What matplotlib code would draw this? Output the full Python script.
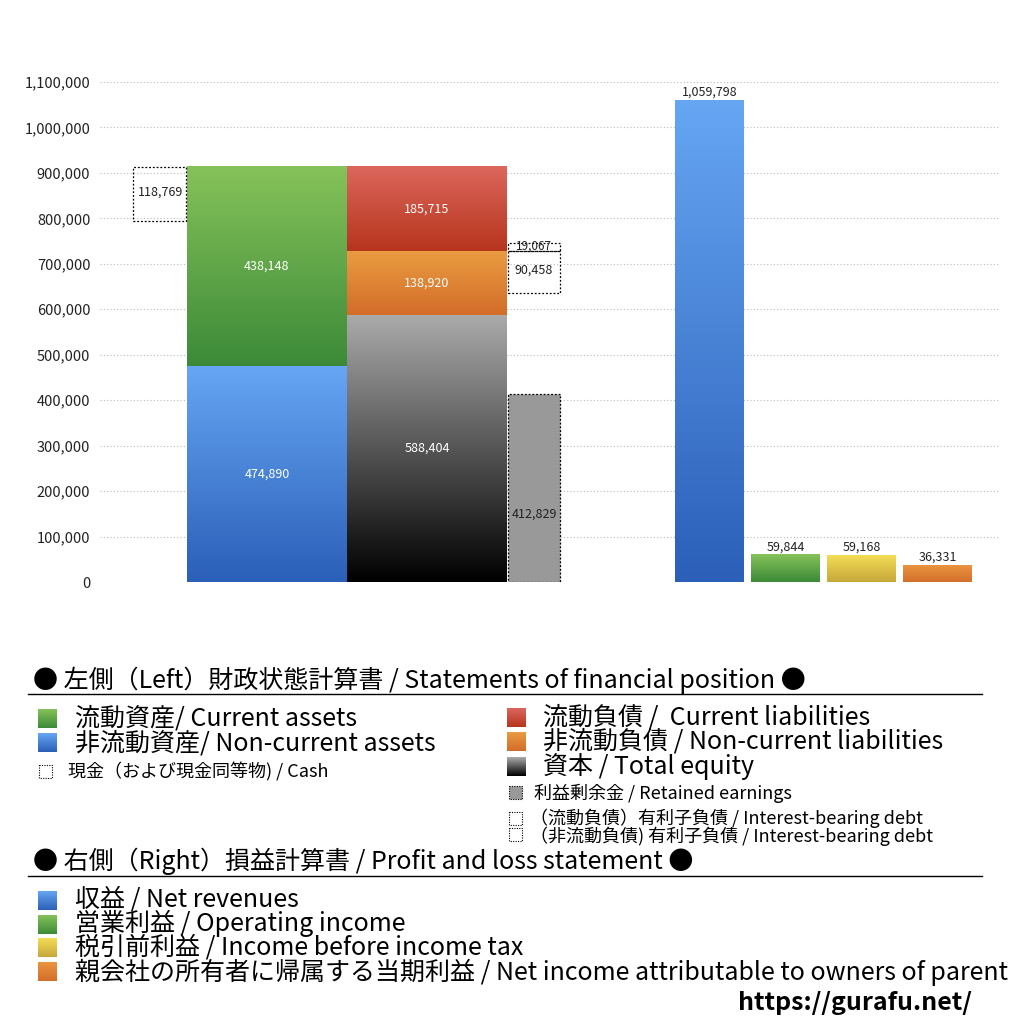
import matplotlib
matplotlib.use("Agg")
import matplotlib.pyplot as plt
import numpy as np
from matplotlib.patches import Rectangle
from matplotlib.colors import to_rgb

plt.rcParams['font.family'] = ['Noto Sans CJK JP', 'DejaVu Sans']

# ---------------- data ----------------
assets_labels = ["非流動資産/ Non-current assets", "流動資産/ Current assets"]
assets_values = [474890, 438148]
liab_labels = ["資本 / Total equity", "非流動負債 / Non-current liabilities", "流動負債 /  Current liabilities"]
liab_values = [588404, 138920, 185715]
cash_value = 118769
retained_earnings = 412829
debt_noncurrent = 90458
debt_current = 19067
pl_labels = ["収益 / Net revenues", "営業利益 / Operating income",
             "税引前利益 / Income before income tax",
             "親会社の所有者に帰属する当期利益 / Net income attributable to owners of parent"]
pl_values = [1059798, 59844, 59168, 36331]
yticks = list(range(0, 1100001, 100000))

# ---------------- styles ----------------
C_GREEN = ("#86c25a", "#3c8a38")
C_BLUE = ("#66a6f3", "#2b5fb8")
C_RED = ("#dc675d", "#b6341c")
C_ORANGE = ("#ea9c41", "#d26c2a")
C_EQUITY = ("#ababab", "#000000")
C_YELLOW = ("#f3de55", "#c6a63a")
C_NET = ("#ea9440", "#d36f2a")
asset_colors = [C_BLUE, C_GREEN]
liab_colors = [C_EQUITY, C_ORANGE, C_RED]
pl_colors = [C_BLUE, C_GREEN, C_YELLOW, C_NET]

LBL_FS = 9


def grad(ax, x0, w, y0, h, cols, zorder=2):
    top = np.array(to_rgb(cols[0]))
    bot = np.array(to_rgb(cols[1]))
    t = np.linspace(0, 1, 256)[:, None]
    img = (top[None, :] * (1 - t) + bot[None, :] * t)[:, None, :]
    ax.imshow(img, extent=[x0, x0 + w, y0, y0 + h], origin='upper',
              aspect='auto', zorder=zorder, interpolation='bilinear')


fig = plt.figure(figsize=(10.24, 10.24), dpi=100)
ax = fig.add_axes([100 / 1024, (1024 - 582) / 1024, 900 / 1024, 500 / 1024])
XL = (100, 1000)
YL = (0, 1100000)

# grid
for v in yticks:
    ax.plot(XL, [v, v], color="#bbbbbb", lw=0.8, ls=(0, (1, 2)), zorder=0)

# layout (pixel-like x units)
x_assets, w_big = 187, 160
x_liab = 347
x_side, w_side = 508, 52
x_cash, w_cash = 133, 53
pl_x0 = [675, 751, 827, 903]
w_pl = 69

# assets stack
b = 0
for v, c in zip(assets_values, asset_colors):
    grad(ax, x_assets, w_big, b, v, c)
    ax.text(x_assets + w_big / 2, b + v / 2, f"{v:,}", color="white", ha="center", va="center",
            fontsize=LBL_FS, zorder=5)
    b += v
total_assets = b
# cash box
ax.add_patch(Rectangle((x_cash, total_assets - cash_value), w_cash, cash_value, fill=False,
                       ls=(0, (1.5, 1.5)), lw=0.9, ec="black", zorder=4))
ax.text(x_cash + w_cash / 2 + 1, total_assets - cash_value / 2 + 3000, f"{cash_value:,}", ha="center",
        va="center", fontsize=LBL_FS, color="#222222", zorder=5)

# liabilities stack
b = 0
for v, c in zip(liab_values, liab_colors):
    grad(ax, x_liab, w_big, b, v, c)
    ax.text(x_liab + w_big / 2, b + v / 2, f"{v:,}", color="white",
            ha="center", va="center", fontsize=LBL_FS, zorder=5)
    b += v
top_noncurrent = liab_values[0] + liab_values[1]

# retained earnings
ax.add_patch(Rectangle((x_side, 0), w_side, retained_earnings, fc="#999999", ec="black",
                       ls=(0, (1.5, 1.5)), lw=0.9, zorder=3))
ax.text(x_side + w_side / 2, retained_earnings * 0.36, f"{retained_earnings:,}", ha="center",
        va="center", fontsize=LBL_FS, color="#222222", zorder=5)

# interest-bearing debt boxes
ax.add_patch(Rectangle((x_side, top_noncurrent - debt_noncurrent), w_side, debt_noncurrent, fill=False,
                       ec="black", ls=(0, (1.5, 1.5)), lw=0.9, zorder=4))
ax.text(x_side + w_side / 2, top_noncurrent - debt_noncurrent / 2 + 4000, f"{debt_noncurrent:,}",
        ha="center", va="center", fontsize=LBL_FS, color="#222222", zorder=5)
ax.add_patch(Rectangle((x_side, top_noncurrent), w_side, debt_current, fill=False,
                       ec="black", ls=(0, (1.5, 1.5)), lw=0.9, zorder=4))
ax.text(x_side + w_side / 2, top_noncurrent + debt_current / 2 + 2000, f"{debt_current:,}",
        ha="center", va="center", fontsize=8.5, color="#222222", zorder=5)

# P&L bars
for x0, v, c in zip(pl_x0, pl_values, pl_colors):
    grad(ax, x0, w_pl, 0, v, c)
    ax.text(x0 + w_pl / 2, v + 3000, f"{v:,}", ha="center", va="bottom", fontsize=LBL_FS,
            color="#222222", zorder=5)

ax.set_xlim(*XL)
ax.set_ylim(*YL)
ax.set_yticks(yticks)
ax.set_yticklabels([f"{v:,}" for v in yticks], fontsize=10.5, color="#222222")
ax.tick_params(axis='y', length=0, pad=7)
ax.set_xticks([])
for s in ax.spines.values():
    s.set_visible(False)
ax.patch.set_alpha(0)

# ---------------- legend area (pixel coordinates overlay) ----------------
lg = fig.add_axes([0, 0, 1, 1])
lg.set_xlim(0, 1024)
lg.set_ylim(1024, 0)
lg.axis('off')
lg.patch.set_alpha(0)


def gsq(x, y, s, cols):
    t = np.linspace(0, 1, 64)[:, None]
    top = np.array(to_rgb(cols[0])); bot = np.array(to_rgb(cols[1]))
    img = (top[None, :] * (1 - t) + bot[None, :] * t)[:, None, :]
    lg.imshow(img, extent=[x, x + s, y + s, y], origin='upper', aspect='auto', zorder=2)


def dsq(x, y, s, fc="none"):
    lg.add_patch(Rectangle((x, y), s, s, fc=fc, ec="black", ls=(0, (1, 1.2)), lw=0.8, zorder=3))


FS_H = 18
FS_I = 18
FS_S = 13

lg.text(33, 680, "● 左側（Left）財政状態計算書 / Statements of financial position ●", fontsize=FS_H,
        va="center", ha="left")
lg.plot([28, 982], [694, 694], color="black", lw=1)

gsq(38, 709, 19, C_GREEN)
gsq(38, 733, 19, C_BLUE)
lg.text(75, 731, assets_labels[1] + "\n" + assets_labels[0], fontsize=FS_I, va="center",
        linespacing=0.92)
dsq(39, 765, 13)
lg.text(68, 772, "現金（および現金同等物) / Cash", fontsize=FS_S, va="center")

gsq(507, 708, 19, C_RED)
gsq(507, 732, 19, C_ORANGE)
gsq(507, 757, 19, C_EQUITY)
lg.text(543, 742, "\n".join(liab_labels[::-1]), fontsize=FS_I, va="center", linespacing=0.925)
dsq(509, 786, 13, fc="#999999")
lg.text(534, 793, "利益剰余金 / Retained earnings", fontsize=FS_S, va="center")
dsq(509, 812, 13)
dsq(509, 828, 13)
lg.text(530, 827, "（流動負債）有利子負債 / Interest-bearing debt\n（非流動負債) 有利子負債 / Interest-bearing debt",
        fontsize=FS_S, va="center", linespacing=0.9)

lg.text(33, 861, "● 右側（Right）損益計算書 / Profit and loss statement ●", fontsize=FS_H,
        va="center", ha="left")
lg.plot([28, 982], [876, 876], color="black", lw=1)

for yc, c in zip([900, 924, 947, 971], pl_colors):
    gsq(38, yc - 9, 19, c)
lg.text(75, 936, "\n".join(pl_labels), fontsize=FS_I, va="center", linespacing=0.89)

lg.text(972, 1003, "https://gurafu.net/", fontsize=18, fontweight="bold", ha="right", va="center")

fig.savefig("out.png", dpi=100, facecolor="white")
